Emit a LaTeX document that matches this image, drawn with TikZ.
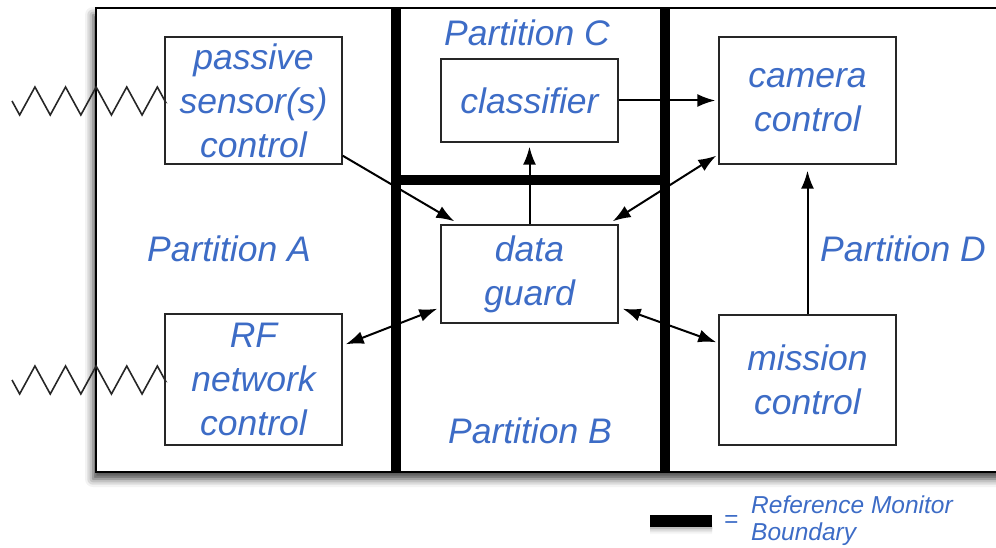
\documentclass[tikz,border=0pt]{standalone}
\usepackage{fontspec}
\setmainfont{Liberation Sans}
\usetikzlibrary{arrows.meta,shadows.blur}
\definecolor{partblue}{HTML}{3D6CC6}
\tikzset{
    tip/.tip={Latex[length=18pt,width=13pt]}
}
\begin{document}
\begin{tikzpicture}[x=1pt, y=-1pt,
        every node/.style={font=\fontsize{35.5}{44}\selectfont\itshape, text=partblue, align=center, inner sep=0pt},
        blk/.style={draw=black!85, line width=1.4pt, fill=white, minimum width=177pt},
        rmb/.style={line width=10pt, black},
        link/.style={line width=2pt, black, -tip},
        dlink/.style={line width=2pt, black, tip-tip},
        antenna/.style={line width=1.6pt, black!85, line join=miter}]
            \clip (0,0) rectangle (996,548);
            \useasboundingbox (0,0) rectangle (996,548);

            % Frame
            \draw[line width=2.2pt, fill=white, blur shadow={shadow xshift=-3pt, shadow yshift=-7pt, shadow blur radius=8pt, shadow opacity=75}]
                (96,8) rectangle (1010,472);

            % Reference monitor boundaries
            \draw[rmb] (396,8) -- (396,472);
            \draw[rmb] (665,8) -- (665,472);
            \draw[rmb] (396,180) -- (665,180);

            % Nodes
            \node[blk, minimum height=127pt] (passive) at (253.5,100.5) {passive\\sensor(s)\\control};
            \node[blk, minimum height=131pt] (rf) at (253.5,379.5) {RF\\network\\control};
            \node[blk, minimum height=83pt] (classifier) at (529.5,100.5) {classifier};
            \node[blk, minimum height=98pt] (guard) at (529.5,274) {data\\guard};
            \node[blk, minimum height=127pt] (camera) at (807.5,100.5) {camera\\control};
            \node[blk, minimum height=130pt] (mission) at (807.5,380) {mission\\control};

            % Partition labels
            \node (partA) at (229,249) {Partition A};
            \node (partB) at (530,431) {Partition B};
            \node (partC) at (527,33) {Partition C};
            \node (partD) at (903,249) {Partition D};

            % Antennas
            \coordinate (antP) at (12,101);
            \coordinate (antR) at (12,380);
            \draw[antenna] (antP) \foreach \k in {1,...,5} { -- ++(7.65,14) -- ++(15.3,-28) -- ++(7.65,14) } -- (passive.west);
            \draw[antenna] (antR) \foreach \k in {1,...,5} { -- ++(7.65,14) -- ++(15.3,-28) -- ++(7.65,14) } -- (rf.west);

            % Edges
            \draw[link] ([yshift=9pt]passive.south east) -- ([xshift=14pt,yshift=3pt]guard.north west);
            \draw[link] (guard.north) -- ([yshift=-4pt]classifier.south);
            \draw[link] (classifier.east) -- ([xshift=-3pt]camera.west);
            \draw[dlink] ([xshift=-6pt,yshift=3pt]guard.north east) -- ([xshift=-2pt,yshift=9pt]camera.south west);
            \draw[dlink] ([xshift=3pt,yshift=-31pt]rf.north east) -- ([xshift=-3pt,yshift=15pt]guard.south west);
            \draw[dlink] ([xshift=4pt,yshift=15pt]guard.south east) -- ([xshift=-2pt,yshift=-28pt]mission.north west);
            \draw[link] (mission.north) -- ([yshift=-6pt]camera.south);

            % Legend
            \coordinate (legL) at (650,521);
            \coordinate (legR) at (712,521);
            \draw[line width=12pt, blur shadow={shadow xshift=0pt, shadow yshift=-7pt, shadow blur radius=6pt, shadow opacity=50}] (legL) -- (legR);
            \node[font=\fontsize{24.5}{27}\selectfont\itshape] (eq) at (731,521) {=};
            \node[font=\fontsize{24.5}{27}\selectfont\itshape, anchor=west, align=left] (legtext) at (751,521) {Reference Monitor\\Boundary};
        \end{tikzpicture}
\end{document}
